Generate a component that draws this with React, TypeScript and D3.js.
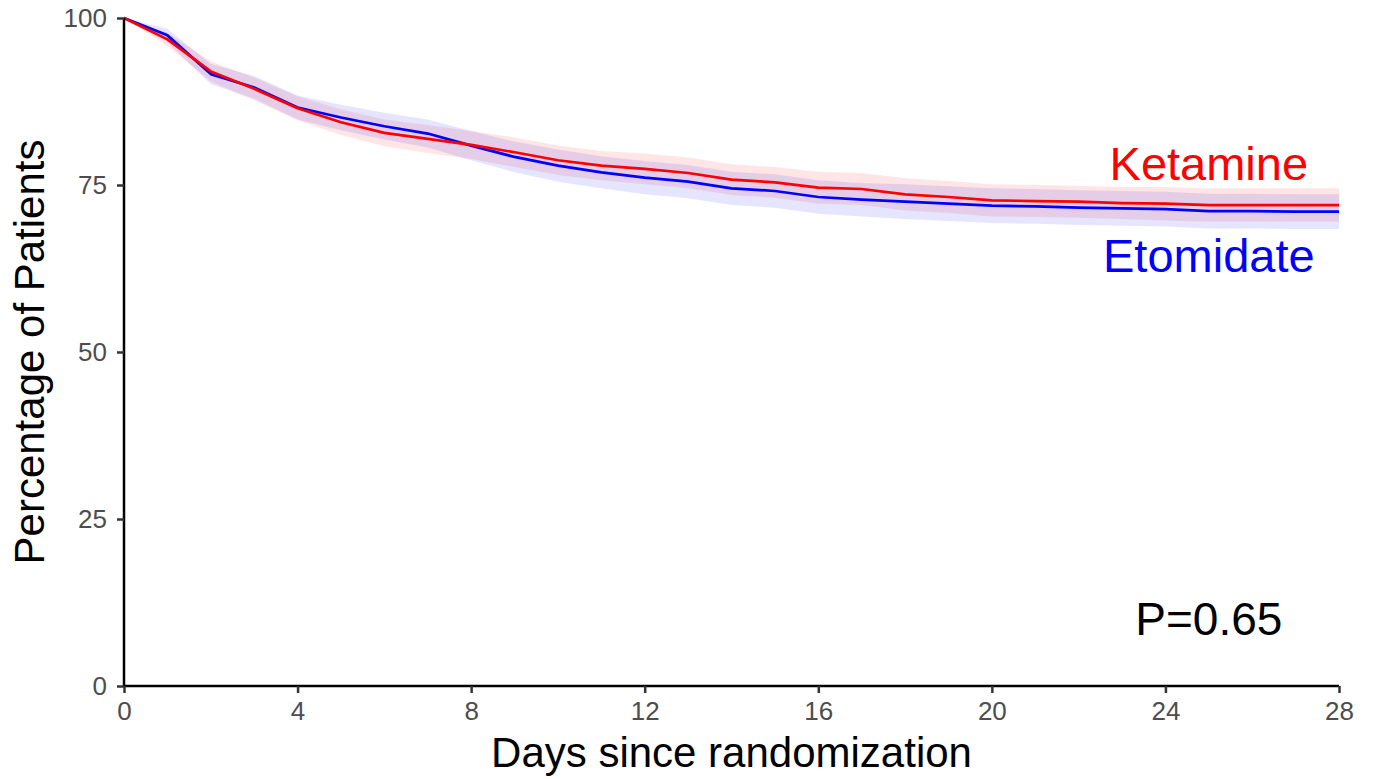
import React, { useRef, useEffect } from 'react'
import * as d3 from 'd3'

// days since randomization
const days = [0, 1, 2, 3, 4, 5, 6, 7, 8, 9, 10, 11, 12, 13, 14, 15, 16, 17, 18, 19, 20, 21, 22, 23, 24, 25, 26, 27, 28]

// Ketamine survival (%) and its confidence band
const ketamine = [100, 96.8, 92.0, 89.4, 86.5, 84.4, 82.8, 81.9, 81.0, 79.9, 78.7, 77.9, 77.4, 76.8, 75.8, 75.4, 74.6, 74.4, 73.6, 73.2, 72.7, 72.6, 72.5, 72.3, 72.2, 72.0, 72.0, 72.0, 72.0]
const ketamineLo = [100, 95.8, 90.5, 87.7, 84.7, 82.5, 80.8, 79.8, 78.9, 77.7, 76.5, 75.7, 75.1, 74.5, 73.5, 73.1, 72.2, 72.0, 71.2, 70.8, 70.3, 70.2, 70.1, 69.9, 69.7, 69.5, 69.5, 69.5, 69.5]
const ketamineHi = [100, 97.8, 93.5, 91.1, 88.3, 86.3, 84.8, 84.0, 83.1, 82.1, 80.9, 80.1, 79.7, 79.1, 78.1, 77.7, 77.0, 76.8, 76.0, 75.6, 75.1, 75.0, 74.9, 74.7, 74.7, 74.5, 74.5, 74.5, 74.5]

// Etomidate survival (%) and its confidence band
const etomidate = [100, 97.4, 91.6, 89.6, 86.6, 85.1, 83.8, 82.7, 80.9, 79.2, 77.9, 76.9, 76.1, 75.5, 74.5, 74.1, 73.2, 72.8, 72.5, 72.2, 71.9, 71.8, 71.6, 71.5, 71.4, 71.1, 71.1, 71.0, 71.0]
const etomidateLo = [100, 96.4, 90.1, 87.9, 84.8, 83.2, 81.8, 80.6, 78.7, 76.9, 75.5, 74.5, 73.6, 73.0, 72.0, 71.6, 70.7, 70.3, 69.9, 69.6, 69.3, 69.2, 69.0, 68.9, 68.8, 68.5, 68.5, 68.4, 68.4]
const etomidateHi = [100, 98.4, 93.1, 91.3, 88.4, 87.0, 85.8, 84.8, 83.1, 81.5, 80.3, 79.3, 78.6, 78.0, 77.0, 76.6, 75.7, 75.3, 75.1, 74.8, 74.5, 74.4, 74.2, 74.1, 74.0, 73.7, 73.7, 73.6, 73.6]

const xTicks = [0, 4, 8, 12, 16, 20, 24, 28]
const yTicks = [0, 25, 50, 75, 100]
const pValue = 'P=0.65'

const FONT = '"Liberation Sans", Arial, Helvetica, sans-serif'

export default function App() {
  const svgRef = useRef<SVGSVGElement>(null)

  useEffect(() => {
    const svg = d3.select(svgRef.current)
    svg.selectAll('*').remove()

    const x = d3.scaleLinear().domain([0, 28]).range([124, 1339])
    const y = d3.scaleLinear().domain([0, 100]).range([686, 18])

    const series = [
      { name: 'Ketamine', color: '#ff0000', mid: ketamine, lo: ketamineLo, hi: ketamineHi },
      { name: 'Etomidate', color: '#0000ff', mid: etomidate, lo: etomidateLo, hi: etomidateHi },
    ]

    // confidence ribbons first
    series.forEach(s => {
      const band = d3.area<number>()
        .x(d => x(d))
        .y0((d, i) => y(s.lo[i]))
        .y1((d, i) => y(s.hi[i]))
      svg.append('path')
        .attr('d', band(days))
        .attr('fill', s.color)
        .attr('fill-opacity', 0.1)
    })

    // lines, blue then red on top
    ;[series[1], series[0]].forEach(s => {
      const ln = d3.line<number>()
        .x(d => x(d))
        .y((d, i) => y(s.mid[i]))
      svg.append('path')
        .attr('d', ln(days))
        .attr('fill', 'none')
        .attr('stroke', s.color)
        .attr('stroke-width', 2.7)
        .attr('stroke-linejoin', 'round')
    })

    // axes
    const xAxis = d3.axisBottom(x).tickValues(xTicks).tickSize(7).tickPadding(9)
    const gx = svg.append('g').attr('transform', 'translate(0,686)').call(xAxis)
    const yAxis = d3.axisLeft(y).tickValues(yTicks).tickSize(7).tickPadding(10)
    const gy = svg.append('g').attr('transform', 'translate(124,0)').call(yAxis)

    ;[gx, gy].forEach(g => {
      g.select('.domain').attr('stroke', '#000').attr('stroke-width', 2.5)
      g.selectAll('.tick line').attr('stroke', '#333').attr('stroke-width', 2.5)
      g.selectAll('.tick text')
        .attr('fill', '#4d4d4d')
        .style('font-family', FONT)
        .style('font-size', '26px')
    })
    gx.select('.domain').attr('d', 'M124,0H1339')
    gy.select('.domain').attr('d', 'M0,686V18')

    // axis titles
    svg.append('text')
      .attr('x', (124 + 1339) / 2)
      .attr('y', 767)
      .attr('text-anchor', 'middle')
      .style('font-family', FONT)
      .style('font-size', '42px')
      .attr('fill', '#000')
      .text('Days since randomization')

    svg.append('text')
      .attr('transform', `translate(44,${(18 + 686) / 2}) rotate(-90)`)
      .attr('text-anchor', 'middle')
      .style('font-family', FONT)
      .style('font-size', '42px')
      .attr('fill', '#000')
      .text('Percentage of Patients')

    // series labels
    svg.append('text')
      .attr('x', x(25))
      .attr('y', 180)
      .attr('text-anchor', 'middle')
      .style('font-family', FONT)
      .style('font-size', '47px')
      .attr('fill', '#ff0000')
      .text('Ketamine')

    svg.append('text')
      .attr('x', x(25))
      .attr('y', 272)
      .attr('text-anchor', 'middle')
      .style('font-family', FONT)
      .style('font-size', '47px')
      .attr('fill', '#0000ff')
      .text('Etomidate')

    svg.append('text')
      .attr('x', x(25))
      .attr('y', 635)
      .attr('text-anchor', 'middle')
      .style('font-family', FONT)
      .style('font-size', '46px')
      .attr('fill', '#000')
      .text(pValue)
  }, [])

  return (
    <svg
      ref={svgRef}
      width={1375}
      height={779}
      style={{ position: 'absolute', left: 0, top: 0, background: '#fff' }}
    />
  )
}
